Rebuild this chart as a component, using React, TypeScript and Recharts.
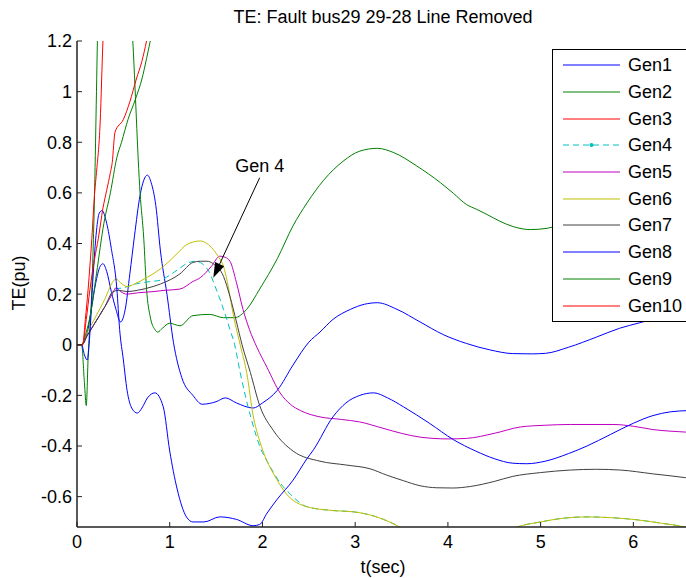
import React from 'react';
import { LineChart, Line, XAxis, YAxis, ReferenceLine } from 'recharts';

// tick positions
const xTicks = [0, 1, 2, 3, 4, 5, 6];
const yTicks = [-0.6, -0.4, -0.2, 0, 0.2, 0.4, 0.6, 0.8, 1, 1.2];

// [t (sec), TE (pu)]
const gen1: [number, number][] = [
  [0, 0], [0.05, 0], [0.1, 0.03], [0.15, 0.13], [0.2, 0.24], [0.25, 0.31], [0.28, 0.32], [0.32, 0.29],
  [0.37, 0.21], [0.42, 0.14], [0.47, 0.09], [0.52, 0.14], [0.57, 0.28], [0.62, 0.43], [0.68, 0.59],
  [0.72, 0.65], [0.76, 0.67], [0.8, 0.64], [0.85, 0.55], [0.9, 0.37], [0.97, 0.2], [1.04, 0.01],
  [1.13, -0.13], [1.25, -0.2], [1.35, -0.235], [1.5, -0.225], [1.6, -0.21], [1.72, -0.23], [1.9, -0.25],
  [2.0, -0.23], [2.16, -0.18], [2.33, -0.08], [2.5, 0.01], [2.62, 0.05], [2.76, 0.1], [2.95, 0.14],
  [3.1, 0.16], [3.24, 0.166], [3.45, 0.14], [3.7, 0.09], [3.95, 0.04], [4.2, 0.005], [4.45, -0.02],
  [4.7, -0.035], [4.9, -0.036], [5.05, -0.034], [5.3, -0.01], [5.6, 0.03], [5.85, 0.065], [6.07, 0.087],
  [6.3, 0.11], [6.6, 0.13],
];
const gen2: [number, number][] = [
  [0, 0], [0.05, 0], [0.08, -0.15], [0.1, -0.24], [0.12, -0.05], [0.16, 0.22], [0.19, 0.61], [0.21, 1.0],
  [0.22, 1.2], [0.26, 1.6], [0.35, 1.9], [0.5, 1.7], [0.6, 1.21], [0.68, 0.6], [0.72, 0.42], [0.75, 0.22],
  [0.79, 0.11], [0.84, 0.06], [0.87, 0.05], [0.92, 0.065], [1.0, 0.085], [1.11, 0.075], [1.25, 0.115],
  [1.43, 0.12], [1.58, 0.107], [1.7, 0.107], [1.83, 0.14], [1.97, 0.22], [2.16, 0.34], [2.33, 0.47],
  [2.48, 0.56], [2.66, 0.65], [2.87, 0.725], [3.05, 0.765], [3.24, 0.776], [3.41, 0.76], [3.665, 0.706],
  [3.92, 0.64], [4.06, 0.598], [4.2, 0.554], [4.31, 0.535], [4.42, 0.515], [4.56, 0.488], [4.71, 0.466],
  [4.89, 0.455], [5.07, 0.46], [5.4, 0.5], [5.8, 0.55], [6.2, 0.58], [6.6, 0.57],
];
const gen3: [number, number][] = [
  [0, 0], [0.06, 0], [0.09, 0.1], [0.12, 0.22], [0.16, 0.42], [0.19, 0.6], [0.21, 0.68], [0.25, 0.88],
  [0.28, 1.2], [0.32, 1.45], [0.4, 1.8],
];
const gen4: [number, number][] = [
  [0, 0], [0.05, 0], [0.1, 0.03], [0.2, 0.09], [0.3, 0.15], [0.41, 0.22], [0.5, 0.225], [0.63, 0.24],
  [0.8, 0.25], [0.9, 0.255], [1.0, 0.275], [1.1, 0.3], [1.18, 0.32], [1.28, 0.33], [1.35, 0.32],
  [1.43, 0.285], [1.49, 0.23], [1.58, 0.14], [1.65, 0.06], [1.7, 0.0], [1.76, -0.11], [1.87, -0.28],
  [1.97, -0.4], [2.08, -0.48], [2.2, -0.55], [2.3, -0.59], [2.48, -0.64], [2.76, -0.655], [2.98, -0.66],
  [3.23, -0.68], [3.48, -0.72], [3.8, -0.8], [4.1, -0.83], [4.4, -0.8], [4.75, -0.72], [5.0, -0.7],
  [5.25, -0.685], [5.5, -0.68], [5.75, -0.683], [6.0, -0.69], [6.3, -0.705], [6.55, -0.72], [6.6, -0.725],
];
const gen5: [number, number][] = [
  [0, 0], [0.05, 0], [0.1, 0.03], [0.2, 0.09], [0.3, 0.15], [0.38, 0.2], [0.42, 0.225], [0.47, 0.21],
  [0.54, 0.2], [0.65, 0.205], [0.82, 0.21], [0.95, 0.215], [1.11, 0.22], [1.25, 0.25], [1.33, 0.265],
  [1.45, 0.31], [1.54, 0.35], [1.6, 0.345], [1.65, 0.33], [1.72, 0.245], [1.79, 0.14], [1.86, 0.06],
  [1.94, -0.01], [2.05, -0.09], [2.19, -0.19], [2.3, -0.235], [2.41, -0.26], [2.62, -0.285], [2.85, -0.295],
  [3.05, -0.305], [3.3, -0.33], [3.5, -0.35], [3.7, -0.365], [4.0, -0.372], [4.2, -0.37], [4.5, -0.35],
  [4.78, -0.325], [5.05, -0.318], [5.32, -0.315], [5.78, -0.315], [6.0, -0.322], [6.21, -0.335],
  [6.56, -0.345], [6.6, -0.346],
];
const gen6: [number, number][] = [
  [0, 0], [0.05, 0], [0.1, 0.04], [0.2, 0.11], [0.3, 0.18], [0.38, 0.245], [0.42, 0.26], [0.47, 0.245],
  [0.54, 0.23], [0.62, 0.24], [0.7, 0.255], [0.82, 0.28], [0.9, 0.3], [1.08, 0.36], [1.18, 0.395],
  [1.33, 0.41], [1.4, 0.4], [1.47, 0.376], [1.53, 0.345], [1.58, 0.31], [1.62, 0.25], [1.69, 0.11],
  [1.76, 0.0], [1.83, -0.11], [1.9, -0.28], [1.97, -0.38], [2.05, -0.46], [2.12, -0.51], [2.26, -0.59],
  [2.48, -0.64], [2.76, -0.655], [2.98, -0.66], [3.23, -0.68], [3.48, -0.72], [3.8, -0.8], [4.1, -0.83],
  [4.4, -0.8], [4.75, -0.72], [5.0, -0.7], [5.25, -0.685], [5.5, -0.68], [5.75, -0.683], [6.0, -0.69],
  [6.3, -0.705], [6.55, -0.72], [6.6, -0.725],
];
const gen7: [number, number][] = [
  [0, 0], [0.05, 0], [0.1, 0.03], [0.2, 0.09], [0.3, 0.15], [0.39, 0.21], [0.45, 0.215], [0.54, 0.21],
  [0.65, 0.215], [0.82, 0.23], [0.9, 0.24], [1.11, 0.28], [1.25, 0.325], [1.33, 0.33], [1.4, 0.33],
  [1.47, 0.32], [1.58, 0.27], [1.65, 0.19], [1.72, 0.09], [1.78, 0.0], [1.87, -0.11], [1.97, -0.24],
  [2.12, -0.34], [2.33, -0.42], [2.62, -0.46], [2.9, -0.475], [3.16, -0.49], [3.34, -0.515], [3.52, -0.537],
  [3.7, -0.557], [3.88, -0.565], [4.05, -0.566], [4.24, -0.56], [4.5, -0.54], [4.7, -0.52], [5.0, -0.505],
  [5.32, -0.495], [5.6, -0.492], [5.86, -0.495], [6.21, -0.51], [6.56, -0.525], [6.6, -0.527],
];
const gen8: [number, number][] = [
  [0, 0], [0.05, 0], [0.08, -0.04], [0.11, -0.06], [0.14, 0.05], [0.17, 0.25], [0.21, 0.45], [0.24, 0.52],
  [0.27, 0.53], [0.32, 0.48], [0.37, 0.38], [0.43, 0.22], [0.46, 0.06], [0.5, -0.06], [0.54, -0.18],
  [0.59, -0.25], [0.65, -0.27], [0.7, -0.25], [0.76, -0.21], [0.84, -0.19], [0.93, -0.245], [1.0, -0.42],
  [1.08, -0.57], [1.18, -0.68], [1.25, -0.7], [1.37, -0.7], [1.54, -0.68], [1.72, -0.69], [1.9, -0.715],
  [1.97, -0.71], [2.05, -0.665], [2.16, -0.61], [2.33, -0.535], [2.48, -0.45], [2.55, -0.415],
  [2.76, -0.285], [2.9, -0.23], [3.05, -0.2], [3.2, -0.19], [3.35, -0.21], [3.52, -0.245], [3.8, -0.31],
  [4.06, -0.375], [4.3, -0.42], [4.5, -0.45], [4.7, -0.468], [4.85, -0.47], [5.05, -0.46], [5.3, -0.43],
  [5.5, -0.4], [5.75, -0.355], [6.0, -0.31], [6.21, -0.28], [6.4, -0.265], [6.6, -0.26],
];
const gen9: [number, number][] = [
  [0, 0], [0.05, 0], [0.1, 0.05], [0.14, 0.11], [0.21, 0.28], [0.29, 0.48], [0.36, 0.6], [0.43, 0.74],
  [0.48, 0.8], [0.55, 0.89], [0.63, 0.97], [0.7, 1.05], [0.75, 1.13], [0.79, 1.2], [0.85, 1.3], [1.0, 1.5],
];
const gen10: [number, number][] = [
  [0, 0], [0.06, 0], [0.1, 0.1], [0.14, 0.22], [0.19, 0.34], [0.23, 0.42], [0.28, 0.54], [0.32, 0.61],
  [0.36, 0.68], [0.38, 0.72], [0.41, 0.84], [0.5, 0.89], [0.57, 0.96], [0.64, 1.05], [0.7, 1.12],
  [0.75, 1.2], [0.8, 1.3], [1.0, 1.6],
];

const genNames = ['Gen1', 'Gen2', 'Gen3', 'Gen4', 'Gen5', 'Gen6', 'Gen7', 'Gen8', 'Gen9', 'Gen10'];
const genColors = ['#0000ff', '#008000', '#ff0000', '#00bfbf', '#bf00bf', '#bfbf00', '#404040', '#0000ff', '#008000', '#ff0000'];
const genData = [gen1, gen2, gen3, gen4, gen5, gen6, gen7, gen8, gen9, gen10];

const series = genNames.map((name, i) => ({
  name,
  color: genColors[i],
  dashed: name === 'Gen4',
  points: genData[i].map(([t, v]) => ({ t, v })),
}));

// annotation arrow for Gen4 (tail -> tip, in data units)
const arrowLabel = 'Gen 4';
const arrowFrom = { x: 1.97, y: 0.66 };
const arrowTo = { x: 1.47, y: 0.265 };

const FONT = '"Liberation Sans", Arial, Helvetica, sans-serif';
const AXIS = { stroke: '#222', strokeWidth: 1.5 };

const ArrowShape = (props: any) => {
  const { x1, y1, x2, y2 } = props;
  const ang = Math.atan2(y2 - y1, x2 - x1);
  const len = 15;
  const half = 5;
  const bx = x2 - len * Math.cos(ang);
  const by = y2 - len * Math.sin(ang);
  const px = -Math.sin(ang) * half;
  const py = Math.cos(ang) * half;
  return (
    <g>
      <line x1={x1} y1={y1} x2={bx} y2={by} stroke="#000" strokeWidth={1} />
      <polygon points={`${x2},${y2} ${bx + px},${by + py} ${bx - px},${by - py}`} fill="#000" />
      <text x={x1} y={y1 - 6} textAnchor="middle" fontSize={18} fontFamily={FONT} fill="#000">
        {arrowLabel}
      </text>
    </g>
  );
};

const fmtY = (v: number) => String(Number(v.toFixed(1)));

export default function App() {
  return (
    <div style={{ position: 'absolute', left: 0, top: 0, width: 686, height: 578, overflow: 'hidden', background: '#fff', fontFamily: FONT }}>
      <LineChart width={700} height={578} margin={{ top: 41, right: 11, left: 0, bottom: 0 }}>
        <XAxis
          dataKey="t"
          type="number"
          domain={[0, 6.6]}
          ticks={xTicks}
          interval={0}
          allowDataOverflow
          height={51}
          tickSize={-5}
          tickMargin={13}
          axisLine={AXIS}
          tickLine={{ stroke: '#222' }}
          tick={{ fill: '#000', fontSize: 18, fontFamily: FONT }}
          label={{ value: 't(sec)', position: 'insideBottom', offset: 5, fill: '#000', fontSize: 18, fontFamily: FONT }}
        />
        <XAxis
          xAxisId="top"
          orientation="top"
          type="number"
          domain={[0, 6.6]}
          ticks={xTicks}
          interval={0}
          allowDataOverflow
          height={0}
          tickSize={-5}
          tickFormatter={() => ''}
          axisLine={AXIS}
          tickLine={{ stroke: '#222' }}
        />
        <YAxis
          type="number"
          domain={[-0.72, 1.2]}
          ticks={yTicks}
          interval={0}
          allowDataOverflow
          width={77}
          tickSize={-5}
          tickMargin={10}
          tickFormatter={fmtY}
          axisLine={AXIS}
          tickLine={{ stroke: '#222' }}
          tick={{ fill: '#000', fontSize: 18, fontFamily: FONT }}
        />
        {series.map((s) => (
          <Line
            key={s.name}
            data={s.points}
            dataKey="v"
            name={s.name}
            type="monotone"
            stroke={s.color}
            strokeWidth={1}
            strokeDasharray={s.dashed ? '6 4' : undefined}
            dot={false}
            isAnimationActive={false}
          />
        ))}
        <ReferenceLine segment={[arrowFrom, arrowTo]} shape={ArrowShape} ifOverflow="visible" />
      </LineChart>

      <div style={{ position: 'absolute', left: 0, width: 766, top: 8, textAlign: 'center', fontSize: 18, lineHeight: '18px', color: '#000' }}>
        TE: Fault bus29 29-28 Line Removed
      </div>
      <div
        style={{
          position: 'absolute', left: 19 - 40, top: 283 - 9, width: 80, height: 18, lineHeight: '18px',
          fontSize: 18, textAlign: 'center', transform: 'rotate(-90deg)', color: '#000',
        }}
      >
        TE(pu)
      </div>

      <div
        style={{
          position: 'absolute', left: 552, top: 49, width: 170, height: 273, border: '1px solid #000',
          background: '#fff', boxSizing: 'border-box', paddingTop: 2,
        }}
      >
        {series.map((s) => (
          <div key={s.name} style={{ display: 'flex', alignItems: 'center', height: 26.7 }}>
            <svg width={57} height={10} style={{ marginLeft: 10, flex: 'none' }}>
              <line x1={0} y1={5} x2={57} y2={5} stroke={s.color} strokeWidth={1} strokeDasharray={s.dashed ? '6 4' : undefined} />
              {s.dashed && <circle cx={28.5} cy={5} r={2} fill={s.color} />}
            </svg>
            <span style={{ marginLeft: 8, fontSize: 18, lineHeight: '18px', color: '#000' }}>{s.name}</span>
          </div>
        ))}
      </div>
    </div>
  );
}
